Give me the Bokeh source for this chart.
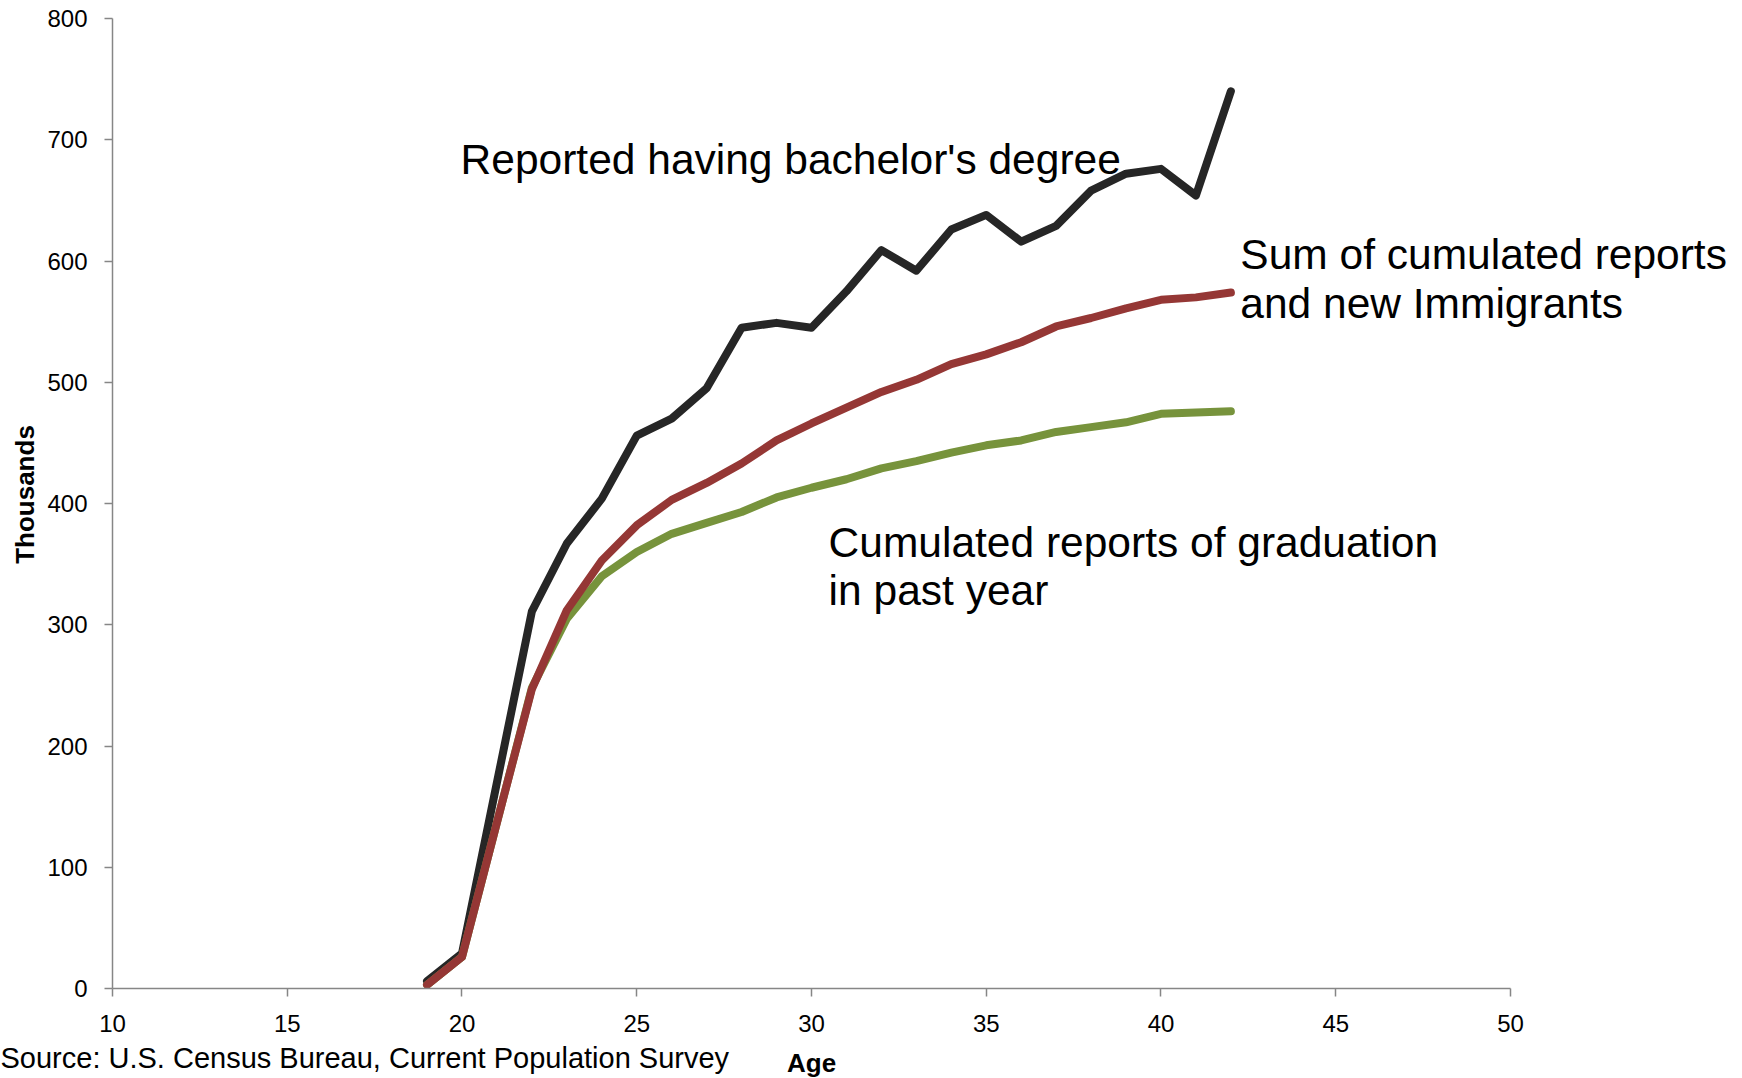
from bokeh.plotting import figure
from bokeh.models import Label, Range1d, FixedTicker, Title
from bokeh.embed import file_html
from bokeh.resources import INLINE

# ---- data ----
ages = list(range(19, 43))
bachelor = [6, 29, 170, 311, 367, 404, 456, 470, 495, 545, 549, 545,
            575, 609, 592, 626, 638, 616, 629, 658, 672, 676, 654, 740]
cumulated_plus_immigrants = [3, 26, 137, 247, 312, 353, 382, 403, 417, 433, 452, 466,
                             479, 492, 502, 515, 523, 533, 546, 553, 561, 568, 570, 574]
cumulated = [3, 26, 137, 248, 305, 340, 360, 375, 384, 393, 405, 413,
             420, 429, 435, 442, 448, 452, 459, 463, 467, 474, 475, 476]
x_ticks = [10, 15, 20, 25, 30, 35, 40, 45, 50]
y_ticks = [0, 100, 200, 300, 400, 500, 600, 700, 800]

BLACK = "#262626"
RED = "#953735"
GREEN = "#77933C"
AXIS = "#868686"
FONT = "Liberation Sans"

# frame reaches the right/top edges so the notes are not clipped;
# the axes themselves are bounded to 10..50 and 0..800
p = figure(frame_width=1622, frame_height=988,
           min_border_left=112, min_border_right=0,
           min_border_top=0, min_border_bottom=90,
           x_range=Range1d(10, 56.41), y_range=Range1d(0, 814.85),
           output_backend="svg", toolbar_location=None)

p.xgrid.visible = False
p.ygrid.visible = False
p.outline_line_color = None
p.background_fill_color = "white"
p.border_fill_color = "white"

for ax in (p.xaxis[0], p.yaxis[0]):
    ax.axis_line_color = AXIS
    ax.axis_line_width = 1.5
    ax.major_tick_line_color = AXIS
    ax.major_tick_line_width = 1.5
    ax.major_tick_out = 8
    ax.major_tick_in = 0
    ax.minor_tick_line_color = None
    ax.major_label_text_font = FONT
    ax.major_label_text_font_size = "24px"
    ax.major_label_text_color = "black"
    ax.axis_label_text_font = FONT
    ax.axis_label_text_font_style = "bold"
    ax.axis_label_text_color = "black"

p.xaxis.ticker = FixedTicker(ticks=x_ticks)
p.yaxis.ticker = FixedTicker(ticks=y_ticks)
p.xaxis.bounds = (10, 50)
p.yaxis.bounds = (0, 800)
p.yaxis.axis_label = "Thousands"
p.yaxis.axis_label_text_font_size = "26px"
p.yaxis.axis_label_standoff = 4
p.yaxis.major_label_standoff = 17
p.xaxis.major_label_standoff = 18
# blank axis label only reserves room under the tick labels
p.xaxis.axis_label = " "
p.xaxis.axis_label_text_font_size = "14px"
p.xaxis.axis_label_standoff = 4

p.line(ages, bachelor, line_color=BLACK, line_width=8,
       line_cap="round", line_join="round")
p.line(ages, cumulated, line_color=GREEN, line_width=8,
       line_cap="round", line_join="round")
p.line(ages, cumulated_plus_immigrants, line_color=RED, line_width=8,
       line_cap="round", line_join="round")

def lab(x, y, t):
    p.add_layout(Label(x=x, y=y, text=t, text_font=FONT, text_font_size="42.5px",
                       text_baseline="middle", text_align="left",
                       text_color="black"))

lab(19.96, 683.5, "Reported having bachelor's degree")
lab(42.27, 605, "Sum of cumulated reports")
lab(42.27, 565, "and new Immigrants")
lab(30.49, 368, "Cumulated reports of graduation")
lab(30.49, 328, "in past year")

src = Title(text="Source: U.S. Census Bureau, Current Population Survey",
            align="left", offset=-112, standoff=-35, vertical_align="middle",
            text_font=FONT, text_font_size="29px", text_font_style="normal",
            text_color="black")
p.add_layout(src, "below")

age = Title(text="Age", align="left", offset=674.5, standoff=-22,
            vertical_align="middle",
            text_font=FONT, text_font_size="26px", text_font_style="bold",
            text_color="black")
p.add_layout(age, "below")

open("out.html", "w").write(file_html(p, INLINE))
